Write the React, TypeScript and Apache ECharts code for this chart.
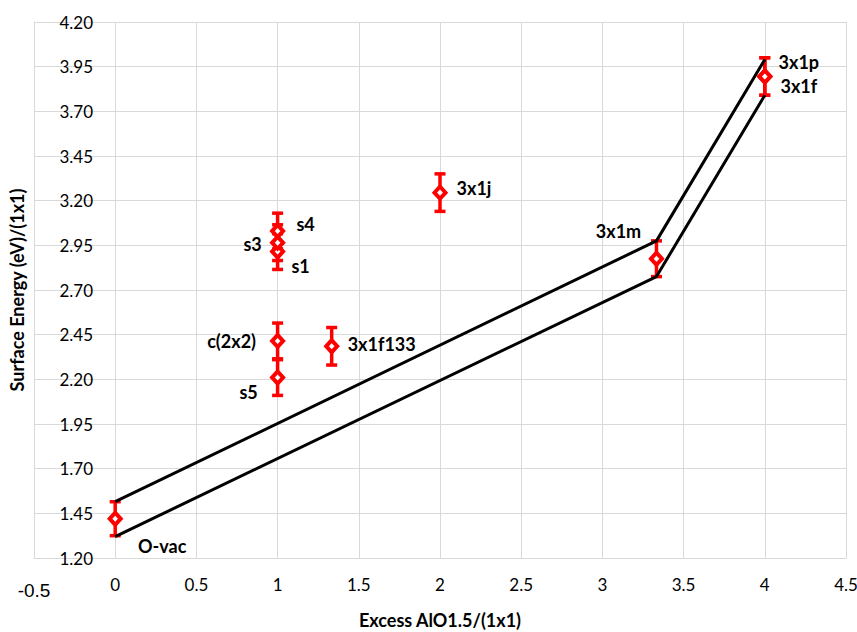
import React, { useEffect, useRef } from "react";
import * as echarts from "echarts";

const names = ["O-vac", "s1", "s3", "s4", "s5", "c(2x2)", "3x1f133", "3x1j", "3x1m", "3x1f", "3x1p"];
const xs = [0, 1, 1, 1, 1, 1, 1.333, 2, 3.333, 4, 4];
const ys = [1.42, 2.915, 2.965, 3.03, 2.21, 2.415, 2.385, 3.245, 2.875, 3.895, 3.895];
const errs = [0.095, 0.1, 0.1, 0.1, 0.1, 0.1, 0.105, 0.105, 0.1, 0.105, 0.105];
const labelOffsets: [number, number][] = [
  [47, 27], [23, 14], [-25, 1], [28, -7], [-29, 14], [-46, 0], [50, -2], [34, -5], [-38, -28], [34, 10], [34, -14],
];
const upperLine = [[0, 1.515], [3.333, 2.975], [4, 3.99]];
const lowerLine = [[0, 1.32], [3.333, 2.775], [4, 3.79]];

const FONT = "Lato";

export default function App() {
  const ref = useRef<HTMLDivElement>(null);
  useEffect(() => {
    document.body.style.margin = "0";
    const chart = echarts.init(ref.current!, null, { renderer: "svg" });
    const pts = names.map((n, i) => ({
      value: [xs[i], ys[i]],
      name: n,
      label: {
        show: true,
        formatter: n,
        position: "inside",
        align: "center",
        verticalAlign: "middle",
        offset: labelOffsets[i],
        color: "#000",
        fontFamily: FONT,
        fontWeight: "bold",
        fontSize: 18,
      },
    }));
    const errData = names.map((n, i) => [xs[i], ys[i] - errs[i], ys[i] + errs[i]]);
    chart.setOption({
      animation: false,
      backgroundColor: "#fff",
      grid: { left: 34, right: 11, top: 22, bottom: 74, outerBoundsMode: "none", containLabel: false },
      xAxis: {
        type: "value",
        min: -0.5,
        max: 4.5,
        interval: 0.5,
        axisLine: { show: true, lineStyle: { color: "#d9d9d9" } },
        axisTick: { show: false },
        splitLine: { show: true, lineStyle: { color: "#d9d9d9", width: 1 } },
        axisLabel: {
          margin: 18,
          formatter: (v: number) => (Math.abs(v + 0.5) < 1e-9 ? "{neg|-0.5}" : "{n|" + String(+v.toFixed(2)) + "}"),
          rich: {
            n: { fontFamily: FONT, fontSize: 17, color: "#000" },
            neg: { fontFamily: "Liberation Sans", fontSize: 19, color: "#000", padding: [5, 0, 0, 0] },
          },
        },
        name: "Excess AlO1.5/(1x1)",
        nameLocation: "middle",
        nameGap: 53,
        nameTextStyle: { fontFamily: FONT, fontWeight: "bold", fontSize: 18, color: "#000" },
      },
      yAxis: {
        type: "value",
        min: 1.2,
        max: 4.2,
        interval: 0.25,
        axisLine: { show: true, onZero: false, lineStyle: { color: "#d9d9d9" } },
        axisTick: { show: false },
        splitLine: { show: true, lineStyle: { color: "#d9d9d9", width: 1 } },
        axisLabel: {
          inside: true,
          margin: 59,
          align: "right",
          formatter: (v: number) => v.toFixed(2),
          fontFamily: FONT,
          fontSize: 17,
          color: "#000",
        },
        name: "Surface Energy (eV)/(1x1)",
        nameLocation: "middle",
        nameGap: 8,
        nameTextStyle: { fontFamily: FONT, fontWeight: "bold", fontSize: 18, color: "#000" },
      },
      series: [
        {
          type: "custom",
          z: 2,
          data: errData,
          renderItem: (params: any, api: any) => {
            const x = api.value(0);
            const lo = api.coord([x, api.value(1)]);
            const hi = api.coord([x, api.value(2)]);
            const cw = 5.5;
            const style = { stroke: "#ff0000", lineWidth: 3.5 };
            return {
              type: "group",
              children: [
                { type: "line", shape: { x1: hi[0], y1: hi[1], x2: lo[0], y2: lo[1] }, style },
                { type: "line", shape: { x1: hi[0] - cw, y1: hi[1], x2: hi[0] + cw, y2: hi[1] }, style },
                { type: "line", shape: { x1: lo[0] - cw, y1: lo[1], x2: lo[0] + cw, y2: lo[1] }, style },
              ],
            };
          },
        },
        {
          type: "line",
          z: 3,
          data: upperLine,
          symbol: "none",
          lineStyle: { color: "#000", width: 3 },
        },
        {
          type: "line",
          z: 3,
          data: lowerLine,
          symbol: "none",
          lineStyle: { color: "#000", width: 3 },
        },
        {
          type: "scatter",
          z: 4,
          data: pts,
          symbol: "diamond",
          symbolSize: [11, 12],
          itemStyle: { color: "#ffffff", borderColor: "#ff0000", borderWidth: 4, opacity: 1 },
        },
      ],
    });
    return () => chart.dispose();
  }, []);
  return <div ref={ref} style={{ width: 857, height: 632 }} />;
}
